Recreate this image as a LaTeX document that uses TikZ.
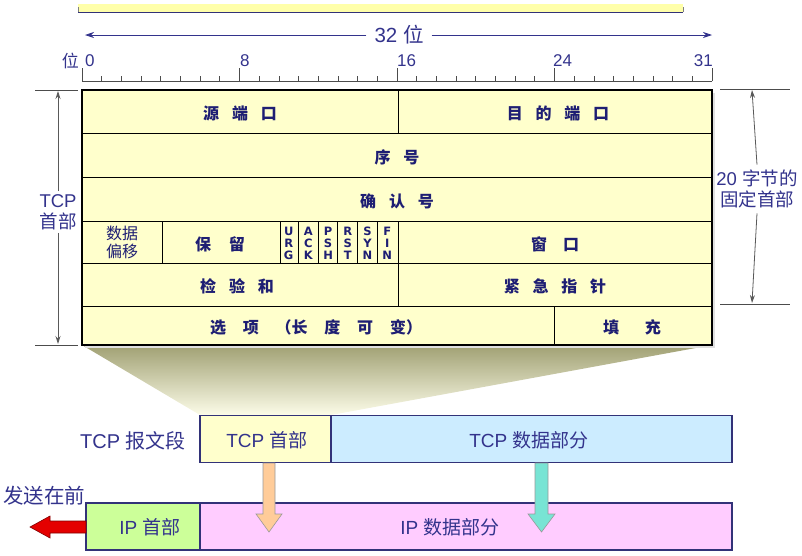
\documentclass[tikz,border=0pt]{standalone}
\usepackage{fontspec}
\setmainfont{Liberation Sans}
\newfontfamily\cjk{Noto Sans CJK SC}
\newfontfamily\flagfont{DejaVu Sans}
\usetikzlibrary{arrows.meta,calc}
\definecolor{cellfill}{RGB}{255,255,204}
\definecolor{txtblue}{RGB}{30,30,115}
\definecolor{lblblue}{RGB}{51,51,140}
\definecolor{boxline}{RGB}{50,50,120}
\definecolor{hdrfill}{RGB}{255,255,204}
\definecolor{datafill}{RGB}{204,236,255}
\definecolor{iphfill}{RGB}{204,255,153}
\definecolor{ipdfill}{RGB}{255,204,255}
\definecolor{orangearr}{RGB}{255,204,153}
\definecolor{cyanarr}{RGB}{120,228,212}
\definecolor{redarr}{RGB}{228,0,0}
\definecolor{trtop}{RGB}{160,160,115}
\definecolor{trbot}{RGB}{252,252,232}
\definecolor{barfill}{RGB}{255,255,170}
\newcommand{\gp}{\hspace{0.8em}}
\tikzset{
  celltxt/.style={text=txtblue, font=\cjk\bfseries\fontsize{16}{18}\selectfont, inner sep=0pt, align=center},
  flagtxt/.style={text=txtblue, font=\flagfont\bfseries\fontsize{11.5}{12.2}\selectfont, inner sep=0pt, align=center},
  lbl/.style={text=lblblue, font=\fontsize{17}{20}\selectfont, inner sep=0pt, align=center},
  seg/.style={draw=boxline, line width=1.3pt, inner sep=0pt},
  segtxt/.style={text=lblblue, font=\fontsize{19}{22}\selectfont, inner sep=0pt},
  dimline/.style={draw=black!65, line width=0.8pt, -{Stealth[length=8pt,width=5pt]}},
  extline/.style={draw=black!70, line width=0.8pt},
  blockarr/.style={draw=black!40, line width=0.6pt},
}
\begin{document}
\begin{tikzpicture}[x=1pt,y=-1pt]
\useasboundingbox (0,0) rectangle (802,555);
% top bar
\fill[barfill] (78,4) rectangle (683,12);
\draw[boxline, line width=0.9pt] (78,12) -- (683,12);
\draw[black!50, line width=0.6pt] (78,7) -- (78,12) (683,7) -- (683,12);
% 32 bits arrow
\node[lbl, font=\fontsize{20.5}{22}\selectfont, inner xsep=8pt] (bits) at (399,35) {32 {\cjk 位}};
\coordinate (bitsL) at (85,35);
\coordinate (bitsR) at (712,35);
\draw[lblblue, line width=0.8pt, -{Stealth[length=9pt,width=6pt]}] (bits.west) -- (bitsL);
\draw[lblblue, line width=0.8pt, -{Stealth[length=9pt,width=6pt]}] (bits.east) -- (bitsR);
% ruler
\draw[black!70, line width=0.7pt] (82,81) -- (712,81);
\foreach \i in {0,...,32}{
  \draw[black!70, line width=0.7pt] ({82+\i*19.6875},81) -- ++(0,-5);
}
\foreach \i in {0,8,16,24,32}{
  \draw[black!70, line width=0.7pt] ({82+\i*19.6875},81) -- ++(0,-13);
}
\node[lbl, anchor=east] (wei) at (79,61) {\cjk 位};
\node[lbl, anchor=west] (n0) at (85,61) {0};
\node[lbl, anchor=west] (n8) at (240,61) {8};
\node[lbl, anchor=west] (n16) at (397,61) {16};
\node[lbl, anchor=west] (n24) at (553,61) {24};
\node[lbl, anchor=east] (n31) at (713,61) {31};
% trapezoid shading
\shade[top color=trtop, bottom color=trbot] (82,345) -- (712,345) -- (331,415) -- (200,415) -- cycle;
% table
\fill[black!12] (85,93) rectangle (715,348);
\fill[cellfill] (82,90) rectangle (712,345);
\begin{scope}[line width=0.9pt]
\draw (82,133) -- (712,133);
\draw (82,177) -- (712,177);
\draw (82,221) -- (712,221);
\draw (82,263) -- (712,263);
\draw (82,306) -- (712,306);
\draw (398,90) -- (398,133);
\draw (398,221) -- (398,306);
\draw (162,221) -- (162,263);
\draw (280,221) -- (280,263);
\foreach \i in {11,...,15}{\draw ({82+\i*19.6875},221) -- ({82+\i*19.6875},263);}
\draw (554,306) -- (554,345);
\end{scope}
\draw[line width=1.6pt] (82,90) rectangle (712,345);
% cell texts
\node[celltxt] (srcport) at (240,113) {源\gp 端\gp 口};
\node[celltxt] (dstport) at (558,113) {目\gp 的\gp 端\gp 口};
\node[celltxt] (seqno) at (397,157) {序\gp 号};
\node[celltxt] (ackno) at (397,201) {确\gp 认\gp 号};
\node[celltxt, font=\cjk\fontsize{16}{18}\selectfont] (offset) at (122,242) {数据\\偏移};
\node[celltxt] (resv) at (220,244) {保\hspace{1.1em}留};
\node[flagtxt] (furg) at (288.7,243.5) {U\\R\\G};
\node[flagtxt] (fack) at (308.4,243.5) {A\\C\\K};
\node[flagtxt] (fpsh) at (328.1,243.5) {P\\S\\H};
\node[flagtxt] (frst) at (347.8,243.5) {R\\S\\T};
\node[flagtxt] (fsyn) at (367.5,243.5) {S\\Y\\N};
\node[flagtxt] (ffin) at (387.2,243.5) {F\\I\\N};
\node[celltxt] (window) at (555,244) {窗\hspace{1em}口};
\node[celltxt] (chksum) at (237,286) {检\gp 验\gp 和};
\node[celltxt] (urgptr) at (555,286) {紧\gp 急\gp 指\gp 针};
\node[celltxt] (options) at (316,327) {选\hspace{1.05em}项\hspace{1.05em}（长\hspace{1.05em}度\hspace{1.05em}可\hspace{1.05em}变）};
\node[celltxt] (padding) at (632,327) {填\gp\gp 充};
% left dimension
\draw[extline] (35,90) -- (78,90);
\draw[extline] (35,345) -- (78,345);
\coordinate (ltop) at (58,91);
\coordinate (lbot) at (58,344);
\node[lbl, font=\fontsize{18.5}{21}\selectfont] (tcphdrlbl) at (58,212) {TCP\\{\cjk 首部}};
\draw[dimline] ([yshift=3pt]tcphdrlbl.north) -- (ltop);
\draw[dimline] ([yshift=-3pt]tcphdrlbl.south) -- (lbot);
% right dimension
\draw[extline] (720,89) -- (790,89);
\draw[extline] (720,304) -- (790,304);
\coordinate (rtop) at (752,90);
\coordinate (rbot) at (752,303);
\node[lbl, font=\fontsize{18.5}{21}\selectfont] (fixedlbl) at (757,189) {20 {\cjk 字节的}\\{\cjk 固定首部}};
\draw[dimline] ([yshift=5pt]fixedlbl.north) -- (rtop);
\draw[dimline] ([yshift=-5pt]fixedlbl.south) -- (rbot);
% TCP segment
\node[seg, fill=hdrfill, minimum width=131pt, minimum height=47pt] (tcph) at (265.5,439) {};
\node[seg, fill=datafill, minimum width=401pt, minimum height=47pt] (tcpd) at (531.5,439) {};
\node[segtxt] (tcphtxt) at (267,440) {TCP {\cjk 首部}};
\node[segtxt] (tcpdtxt) at (529,440) {TCP {\cjk 数据部分}};
\node[segtxt, font=\fontsize{20}{22}\selectfont] (seglbl) at (133,441) {TCP {\cjk 报文段}};
% IP datagram
\node[seg, fill=iphfill, minimum width=114pt, minimum height=47pt] (iph) at (143,526.5) {};
\node[seg, fill=ipdfill, minimum width=532pt, minimum height=47pt] (ipd) at (466,526.5) {};
\node[segtxt] (iphtxt) at (150,527) {IP {\cjk 首部}};
\node[segtxt] (ipdtxt) at (450,527) {IP {\cjk 数据部分}};
\node[segtxt, font=\cjk\fontsize{20.5}{22}\selectfont] (sendfirst) at (44,496) {发送在前};
% block arrows
\draw[blockarr, fill=orangearr] (263,463) -- (275,463) -- (275,514) -- (282,514) -- (269,532) -- (256,514) -- (263,514) -- cycle;
\draw[blockarr, fill=cyanarr] (535,463) -- (548,463) -- (548,514) -- (555,514) -- (541.5,532) -- (528,514) -- (535,514) -- cycle;
\draw[draw=red!50!black, line width=0.6pt, fill=redarr] (86,521) -- (50,521) -- (50,516) -- (30,527) -- (50,538) -- (50,533) -- (86,533) -- cycle;
\end{tikzpicture}
\end{document}
